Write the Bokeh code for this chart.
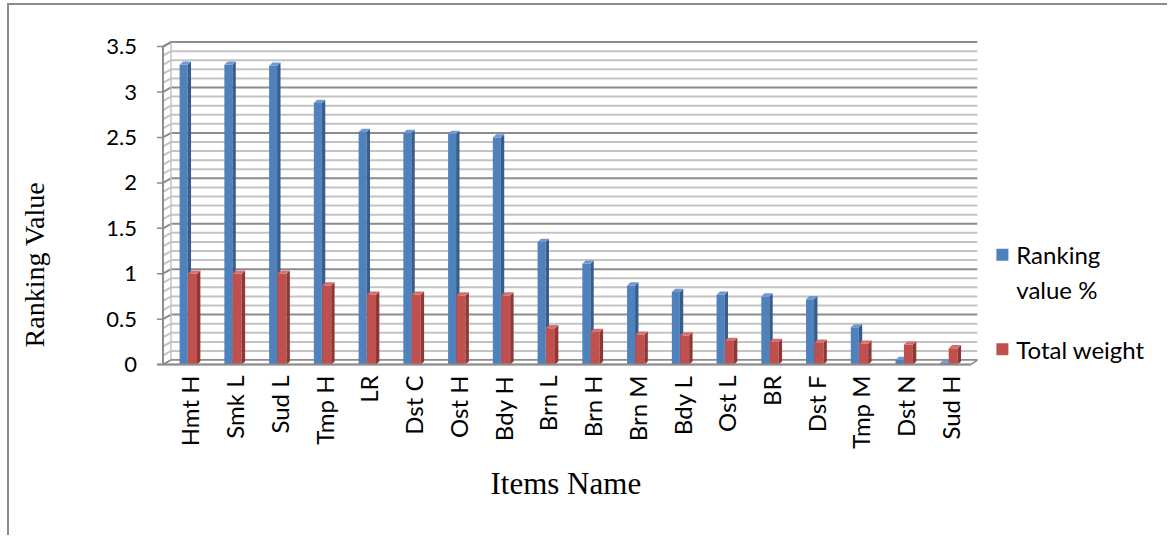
import numpy as np
from bokeh.plotting import figure
from bokeh.models import Range1d, FixedTicker, Title
from bokeh.core.properties import value
from bokeh.embed import file_html
from bokeh.resources import INLINE

# ---- data ----
items = ["Hmt H", "Smk L", "Sud L", "Tmp H", "LR", "Dst C", "Ost H", "Bdy H", "Brn L",
         "Brn H", "Brn M", "Bdy L", "Ost L", "BR", "Dst F", "Tmp M", "Dst N", "Sud H"]
ranking_value = [3.30, 3.30, 3.29, 2.88, 2.56, 2.55, 2.54, 2.50, 1.35,
                 1.11, 0.87, 0.80, 0.77, 0.75, 0.72, 0.41, 0.05, 0.02]
total_weight = [1.00, 1.00, 1.00, 0.87, 0.77, 0.77, 0.76, 0.76, 0.40,
                0.36, 0.33, 0.32, 0.26, 0.25, 0.24, 0.23, 0.22, 0.18]
y_ticks = [0, 0.5, 1, 1.5, 2, 2.5, 3, 3.5]
y_tick_labels = ["0", "0.5", "1", "1.5", "2", "2.5", "3", "3.5"]
minor_step = 0.1
series_names = ["Ranking value %", "Total weight"]
x_title = "Items Name"
y_title = "Ranking Value"

# ---- style ----
FONT = "Lato"
SERIF = "Liberation Serif"
front_cols = ["#4f81bd", "#c0504d"]
side_cols = ["#375d8c", "#8e3835"]
top_cols = ["#6f99cf", "#d4716e"]
grid_major = "#8c8c8c"
grid_minor = "#c3c3c3"

n = len(items)
xi = np.arange(n)

W, H = 1160, 532
X0, X1 = -4.03, 21.85
Y0, Y1 = -0.12, 3.6
px_x = (W - 2) / (X1 - X0)          # pixels per x unit

# 3D geometry (data units)
ax0 = -0.6
dxw, dyw = 0.18, 0.05
x_back_right = n - 0.4
x_front_right = n - 0.55
offs = [(-0.228, -0.049), (-0.04, 0.16)]
sd, sdy = 0.076, 0.035
tick_len = 6 / px_x

p = figure(width=W, height=H, output_backend="svg", toolbar_location=None,
           x_range=Range1d(X0, X1), y_range=Range1d(Y0, Y1),
           min_border_left=0, min_border_right=2, min_border_top=32, min_border_bottom=162)
p.styles = {"border-left": "2px solid #8c8c8c", "border-top": "2px solid #8c8c8c",
            "margin-left": "7px", "margin-top": "3px"}
p.outline_line_color = None
p.xgrid.visible = False
p.ygrid.visible = False
p.yaxis.visible = False

# back wall + side wall gridlines
vals = np.round(np.arange(0, y_ticks[-1] + 1e-9, minor_step), 3)
is_major = [abs(v / 0.5 - round(v / 0.5)) < 1e-6 for v in vals]
minor_v = [v for v, m in zip(vals, is_major) if not m]
major_v = [v for v, m in zip(vals, is_major) if m]
p.multi_line(xs=[[ax0, ax0 + dxw, x_back_right] for _ in minor_v],
             ys=[[v, v + dyw, v + dyw] for v in minor_v], line_color=grid_minor, line_width=2)
p.multi_line(xs=[[ax0, ax0 + dxw, x_back_right] for _ in major_v],
             ys=[[v, v + dyw, v + dyw] for v in major_v], line_color=grid_major, line_width=2)
p.segment(x0=[ax0 + dxw], y0=[dyw], x1=[ax0 + dxw], y1=[y_ticks[-1] + dyw],
          line_color=grid_minor, line_width=1.5)

# floor
p.patch(x=[ax0, x_front_right, x_back_right, ax0 + dxw], y=[0, 0, dyw, dyw],
        fill_color="white", line_color=grid_major, line_width=1.5)

# bars
for s, vals_s in enumerate([ranking_value, total_weight]):
    l = xi + offs[s][0]
    r = xi + offs[s][1]
    v = np.array(vals_s)
    p.quad(left=l, right=r, bottom=0, top=v, fill_color=front_cols[s], line_color=None)
    p.patches(xs=[[rr, rr + sd, rr + sd, rr] for rr in r],
              ys=[[0, sdy, vv + sdy, vv] for vv in v],
              fill_color=side_cols[s], line_color=None)
    p.patches(xs=[[ll, ll + sd, rr + sd, rr] for ll, rr in zip(l, r)],
              ys=[[vv, vv + sdy, vv + sdy, vv] for vv in v],
              fill_color=top_cols[s], line_color=None)

# front axis lines and ticks
p.segment(x0=[ax0 - tick_len], y0=[0], x1=[x_front_right], y1=[0], line_color=grid_major, line_width=2)
p.segment(x0=[ax0], y0=[0], x1=[ax0], y1=[y_ticks[-1]], line_color=grid_major, line_width=2)
p.segment(x0=[ax0 - tick_len] * len(y_ticks), y0=y_ticks, x1=[ax0] * len(y_ticks), y1=y_ticks,
          line_color=grid_major, line_width=1.5)
p.segment(x0=[ax0], y0=[y_ticks[-1]], x1=[ax0 + dxw], y1=[y_ticks[-1] + dyw],
          line_color=grid_major, line_width=2)

# y tick labels and y title (drawn as text so they can sit where the reference has them)
p.text(x=[ax0 - 26 / px_x] * len(y_ticks), y=y_ticks, text=y_tick_labels,
       text_font=value(FONT), text_font_size="22px", text_color="#000000",
       text_align="right", text_baseline="middle")
p.text(x=[ax0 - 128 / px_x], y=[1.10], text=[y_title], angle=np.pi / 2,
       text_font=value(SERIF), text_font_size="28px", text_color="#000000",
       text_align="center", text_baseline="middle")

# legend (manual)
leg_x = n + 0.16
p.scatter(x=[leg_x, leg_x], y=[1.21, 0.168], marker="square", size=12, fill_color=front_cols,
          line_color=None)
p.text(x=[leg_x + 0.31] * 2, y=[1.02, 0.168],
       text=[series_names[0].replace(" value", "\nvalue"), series_names[1]],
       text_font=value(FONT), text_font_size="24px", text_color="#000000",
       text_baseline="middle", text_align="left", text_line_height=1.21)

# x axis
p.xaxis.ticker = FixedTicker(ticks=list(range(n)))
p.xaxis.major_label_overrides = {i: name for i, name in enumerate(items)}
p.xaxis.major_label_orientation = np.pi / 2
p.xaxis.axis_line_color = None
p.xaxis.major_tick_line_color = None
p.xaxis.minor_tick_line_color = None
p.xaxis.major_tick_out = 0
p.xaxis.major_tick_in = 0
p.xaxis.major_label_standoff = 0
p.xaxis.major_label_text_font = FONT
p.xaxis.major_label_text_font_size = "24px"
p.xaxis.major_label_text_color = "#000000"

p.add_layout(Title(text=x_title, align="left", offset=481, standoff=24,
                   text_font=SERIF, text_font_style="normal", text_font_size="31px",
                   text_color="#000000"), "below")

open("out.html", "w").write(file_html(p, INLINE))
